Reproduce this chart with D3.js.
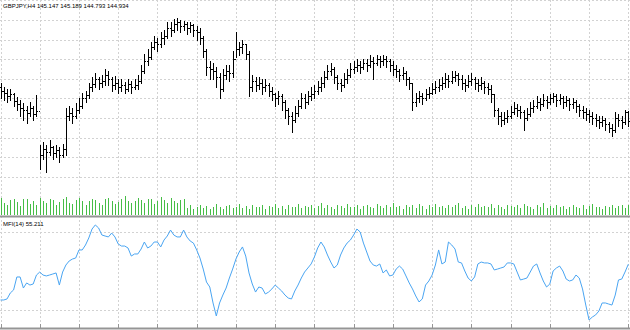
<!DOCTYPE html>
<head>
    <meta charset="utf-8">
    <title>GBPJPY,H4</title>
    <script src="https://d3js.org/d3.v7.min.js"></script>
    <style>
        body { margin: 0; background: #fff; }
        svg { display: block; font-family: "Liberation Sans", Arial, sans-serif; }
        .grid line { stroke: #d2d2d2; stroke-width: 1; stroke-dasharray: 2,2; shape-rendering: crispEdges; }
        .bar { stroke: #000; stroke-width: 1; shape-rendering: crispEdges; }
        .vol { stroke: #46bd46; stroke-width: 1; shape-rendering: crispEdges; }
        .mfi { fill: none; stroke: #4aa5f2; stroke-width: 1; }
        .lbl { font-size: 6px; fill: #000; }
    </style>
</head>
<body>
<div id="chart"></div>
<script>
// symbol info shown top left
const symbol = "GBPJPY,H4";
const lastBar = { open: 145.147, high: 145.189, low: 144.793, close: 144.934 };
const mfiName = "MFI(14)";

// price bars (H4), oldest first
const opens = [145.80,145.70,145.63,145.55,145.60,145.43,145.35,145.25,145.20,145.13,145.25,145.10,145.18,144.05,144.20,144.13,144.25,144.10,144.18,144.05,
    144.20,145.05,145.13,145.05,145.20,145.30,145.50,145.58,145.80,145.88,146.00,145.90,145.95,146.10,146.00,145.85,145.90,145.80,145.85,145.75,
    145.88,145.80,145.85,145.95,146.20,146.45,146.55,146.80,146.95,146.88,147.05,147.10,147.30,147.25,147.40,147.45,147.35,147.40,147.30,147.38,
    147.25,147.20,147.05,146.70,146.30,146.25,146.20,146.05,145.75,146.10,146.20,146.15,146.50,146.75,146.80,146.88,146.63,145.80,145.95,145.85,
    145.90,145.80,145.85,145.70,145.60,145.50,145.55,145.40,145.20,145.05,144.95,145.13,145.30,145.50,145.40,145.55,145.60,145.70,145.80,145.90,
    146.05,146.20,146.25,146.05,145.90,145.85,146.00,146.10,146.25,146.30,146.35,146.30,146.40,146.35,146.45,146.40,146.50,146.45,146.50,146.45,
    146.35,146.25,146.20,146.10,146.15,146.00,145.90,145.40,145.50,145.55,145.50,145.60,145.65,145.75,145.80,145.85,145.90,146.00,145.95,146.05,
    146.10,146.00,145.90,145.85,145.95,146.00,145.90,145.85,145.90,145.80,145.75,145.60,145.20,145.05,144.95,145.00,145.05,145.15,145.25,145.20,
    145.15,145.00,145.10,145.25,145.30,145.40,145.35,145.45,145.40,145.50,145.55,145.45,145.50,145.40,145.45,145.35,145.40,145.30,145.20,145.15,
    145.10,145.05,145.00,144.95,144.90,144.95,144.85,144.75,144.70,145.00,144.95,144.90,145.147];
const highs = [145.90,145.80,145.75,145.75,145.63,145.53,145.45,145.38,145.30,145.40,145.30,145.58,144.30,144.38,144.30,144.43,144.28,144.30,144.25,144.33,
    145.25,145.30,145.25,145.38,145.50,145.63,145.70,145.90,146.05,146.15,146.05,146.10,146.25,146.20,146.05,146.08,146.00,146.00,145.93,146.00,
    145.95,146.00,146.10,146.35,146.63,146.75,146.95,147.10,147.05,147.20,147.25,147.45,147.45,147.53,147.55,147.50,147.48,147.45,147.45,147.40,
    147.35,147.30,147.10,146.75,146.45,146.40,146.30,146.15,146.25,146.35,146.35,146.70,147.20,146.95,147.00,146.90,146.70,146.10,146.05,146.05,
    146.00,146.00,145.90,145.80,145.65,145.70,145.60,145.45,145.25,145.15,145.30,145.45,145.65,145.60,145.70,145.80,145.85,145.95,146.05,146.20,
    146.35,146.40,146.30,146.10,146.00,146.15,146.25,146.40,146.45,146.50,146.45,146.50,146.50,146.60,146.55,146.60,146.58,146.60,146.58,146.50,
    146.45,146.35,146.25,146.30,146.20,146.05,145.90,145.65,145.70,145.65,145.75,145.80,145.90,145.95,146.00,146.05,146.15,146.10,146.20,146.20,
    146.15,146.10,146.00,146.10,146.15,146.05,146.00,146.05,145.95,145.90,145.85,145.60,145.25,145.15,145.15,145.20,145.30,145.40,145.35,145.30,
    145.20,145.25,145.40,145.45,145.55,145.50,145.60,145.55,145.60,145.65,145.60,145.60,145.55,145.55,145.50,145.50,145.45,145.35,145.30,145.25,
    145.20,145.15,145.10,145.05,145.05,145.00,144.90,144.85,145.15,145.10,145.05,145.20,145.189];
const lows = [145.50,145.45,145.40,145.45,145.30,145.20,145.05,144.95,144.88,145.05,144.95,145.05,143.70,143.95,143.63,144.05,143.95,144.00,143.88,144.00,
    144.05,144.95,144.88,145.00,145.13,145.25,145.40,145.50,145.70,145.80,145.75,145.78,145.85,145.85,145.70,145.75,145.65,145.70,145.63,145.70,
    145.65,145.73,145.75,145.90,146.15,146.35,146.50,146.75,146.70,146.80,146.90,147.05,147.10,147.20,147.25,147.20,147.25,147.15,147.20,147.10,
    147.00,146.90,146.55,146.10,146.00,146.00,145.80,145.50,145.70,146.00,145.95,146.05,146.55,146.60,146.65,146.50,145.55,145.70,145.70,145.75,
    145.60,145.70,145.55,145.45,145.30,145.35,145.20,145.00,144.85,144.65,144.90,145.05,145.25,145.25,145.35,145.45,145.50,145.60,145.70,145.80,
    146.00,146.10,145.90,145.75,145.70,145.80,145.90,146.05,146.15,146.20,146.15,146.25,146.20,146.30,146.00,146.35,146.30,146.35,146.30,146.20,
    146.10,146.05,145.95,146.00,145.85,145.75,145.20,145.30,145.40,145.35,145.45,145.50,145.60,145.65,145.70,145.75,145.80,145.80,145.90,145.95,
    145.85,145.75,145.70,145.80,145.85,145.75,145.70,145.75,145.65,145.60,145.40,145.05,144.85,144.80,144.85,144.90,145.00,145.10,145.05,145.00,
    144.70,144.95,145.05,145.15,145.25,145.20,145.30,145.25,145.35,145.40,145.30,145.35,145.25,145.30,145.20,145.25,145.15,145.05,145.00,144.95,
    144.90,144.85,144.80,144.75,144.80,144.70,144.65,144.55,144.65,144.80,144.75,144.85,144.793];
const closes = [145.70,145.63,145.55,145.60,145.43,145.35,145.25,145.20,145.13,145.25,145.10,145.18,144.05,144.20,144.13,144.25,144.10,144.18,144.05,144.20,
    145.05,145.13,145.05,145.20,145.30,145.50,145.58,145.80,145.88,146.00,145.90,145.95,146.10,146.00,145.85,145.90,145.80,145.85,145.75,145.88,
    145.80,145.85,145.95,146.20,146.45,146.55,146.80,146.95,146.88,147.05,147.10,147.30,147.25,147.40,147.45,147.35,147.40,147.30,147.38,147.25,
    147.20,147.05,146.70,146.30,146.25,146.20,146.05,145.75,146.10,146.20,146.15,146.50,146.75,146.80,146.88,146.63,145.80,145.95,145.85,145.90,
    145.80,145.85,145.70,145.60,145.50,145.55,145.40,145.20,145.05,144.95,145.13,145.30,145.50,145.40,145.55,145.60,145.70,145.80,145.90,146.05,
    146.20,146.25,146.05,145.90,145.85,146.00,146.10,146.25,146.30,146.35,146.30,146.40,146.35,146.45,146.40,146.50,146.45,146.50,146.45,146.35,
    146.25,146.20,146.10,146.15,146.00,145.90,145.40,145.50,145.55,145.50,145.60,145.65,145.75,145.80,145.85,145.90,146.00,145.95,146.05,146.10,
    146.00,145.90,145.85,145.95,146.00,145.90,145.85,145.90,145.80,145.75,145.60,145.20,145.05,144.95,145.00,145.05,145.15,145.25,145.20,145.15,
    145.00,145.10,145.25,145.30,145.40,145.35,145.45,145.40,145.50,145.55,145.45,145.50,145.40,145.45,145.35,145.40,145.30,145.20,145.15,145.10,
    145.05,145.00,144.95,144.90,144.95,144.85,144.75,144.70,145.00,144.95,144.90,145.147,144.934];

// tick volumes
const volumes = [4200,3100,2500,3800,4000,3300,2200,3900,4100,2800,3500,2600,4300,3600,2900,4000,3700,2400,3300,3900,
    4400,3000,2700,3800,4200,3400,2600,3500,4100,3700,3100,2500,3900,4300,3600,2800,3300,4000,4700,3500,
    2900,3600,4200,3800,3100,4100,3900,2700,3400,4400,3700,3000,4200,3600,2900,3800,4100,
    1800,2400,1500,2000,2600,1700,2200,1400,2100,2700,1900,1600,2300,2500,1800,2000,2800,1700,2200,1500,
    2400,2100,1900,2600,1600,2300,2000,2700,1800,2200,1500,2500,2100,1900,2800,1700,2300,2000,2600,1800,
    2200,2900,1700,2400,2000,1600,2500,2200,1800,2700,2100,1900,2400,1500,2300,2600,2000,1800,2800,2200,
    1700,2500,2100,2900,1900,2300,1600,2600,2000,2400,1800,2700,2200,1500,2500,2100,2800,1900,2300,1700,
    2600,2000,2400,3000,1800,2200,1600,2500,2100,2700,1900,2300,2000,2800,1700,2400,2100,1500,2600,2200,
    1900,2500,1800,2700,2300,2000,1600,2400,2100,2900,1800,2200,1700,2500,2000,2300,1400,1900,2600,2100,
    1800,2400,1600,2200,2700,1900,2100,1500,2300,2000,2500,1700,2200,2600,1800,2400];

// money flow index (14)
const mfi = [27.7,27.7,28.5,33.1,35.4,45.4,45.4,36.9,40.8,39.2,40.0,46.9,49.2,46.9,46.2,46.9,47.7,48.5,39.2,49.2,
    54.6,57.7,59.2,60.0,66.2,66.2,70.0,75.4,82.3,85.4,83.1,77.7,76.9,76.2,79.2,76.2,70.8,69.2,69.2,67.7,
    61.5,63.1,63.1,66.9,72.3,67.7,69.2,72.3,72.3,68.5,73.8,76.9,81.5,77.7,76.2,76.2,81.5,76.2,73.1,71.5,
    66.2,60.0,51.5,41.5,37.7,25.4,15.4,25.4,31.5,36.9,44.6,51.5,59.2,64.6,68.5,61.5,48.5,40.0,33.8,37.7,
    36.9,32.3,33.8,36.2,39.2,36.9,34.6,31.5,29.2,28.5,34.6,39.2,44.6,49.2,52.3,55.4,60.8,67.7,72.3,68.5,
    62.3,56.9,52.3,54.6,62.3,67.7,71.5,73.8,77.7,82.3,80.0,71.5,64.6,57.7,54.6,53.8,55.4,48.5,50.8,46.2,
    46.9,51.5,53.8,51.5,46.2,40.8,36.2,30.8,26.2,28.5,39.2,42.3,46.9,54.6,66.2,55.4,56.9,72.3,70.0,66.9,
    56.9,56.2,50.0,44.6,42.3,45.4,55.4,56.9,56.2,56.2,55.4,50.8,51.5,52.3,53.1,56.2,56.2,55.4,49.2,43.1,
    43.8,44.6,49.2,53.8,55.4,48.5,42.3,37.7,40.0,50.0,52.3,53.8,50.0,43.8,42.3,43.1,46.9,44.6,36.2,23.8,
    12.3,14.6,16.2,19.2,25.4,25.4,24.6,23.8,31.5,43.1,43.8,49.2,55.211];

const mfiLevels = [20, 80];

const W = 630, H = 330;
const n = closes.length;

const svg = d3.select("#chart").append("svg")
    .attr("width", W)
    .attr("height", H);

// scales
const x = d3.scaleLinear().domain([0, n - 1]).range([0.5, 628.3]);
const yPrice = d3.scaleLinear().domain([147.5, 143.5]).range([20, 176.8]);
const yVol = d3.scaleLinear().domain([0, 5000]).range([215, 195]);
const yMfi = d3.scaleLinear().domain([20, 80]).range([310, 232]);

const px = v => Math.round(v) + 0.5;

// grid: one vertical line every 12 bars (2 days)
const gridBars = d3.range(0, n, 12);
const grid = svg.append("g").attr("class", "grid");
grid.selectAll(".gv").data(gridBars).enter().append("line")
    .attr("x1", d => px(x(d))).attr("x2", d => px(x(d)))
    .attr("y1", 0).attr("y2", 327);
grid.selectAll(".gh").data(d3.range(148, 143.4, -0.5)).enter().append("line")
    .attr("x1", 0).attr("x2", W)
    .attr("y1", d => px(yPrice(d))).attr("y2", d => px(yPrice(d)));
grid.selectAll(".gm").data(mfiLevels).enter().append("line")
    .attr("x1", 0).attr("x2", W)
    .attr("y1", d => px(yMfi(d))).attr("y2", d => px(yMfi(d)));

// volumes
svg.append("g").selectAll("line").data(volumes).enter().append("line")
    .attr("class", "vol")
    .attr("x1", (d, i) => px(x(i))).attr("x2", (d, i) => px(x(i)))
    .attr("y1", yVol(0)).attr("y2", d => Math.round(yVol(d)));

// OHLC bars
const bars = svg.append("g");
closes.forEach((c, i) => {
    const bx = px(x(i));
    bars.append("line").attr("class", "bar")
        .attr("x1", bx).attr("x2", bx)
        .attr("y1", Math.round(yPrice(highs[i]))).attr("y2", Math.round(yPrice(lows[i])) + 1);
    bars.append("line").attr("class", "bar")
        .attr("x1", bx - 1.5).attr("x2", bx - 0.5)
        .attr("y1", px(yPrice(opens[i]))).attr("y2", px(yPrice(opens[i])));
    bars.append("line").attr("class", "bar")
        .attr("x1", bx + 0.5).attr("x2", bx + 1.5)
        .attr("y1", px(yPrice(c))).attr("y2", px(yPrice(c)));
});

// pane separators
svg.append("rect").attr("x", 0).attr("y", 215.5).attr("width", W).attr("height", 2).attr("fill", "#959595");
svg.append("rect").attr("x", 0).attr("y", 327.5).attr("width", W).attr("height", 2).attr("fill", "#959595");
svg.append("g").selectAll("line").data(gridBars).enter().append("line")
    .attr("x1", d => px(x(d))).attr("x2", d => px(x(d)))
    .attr("y1", 324).attr("y2", 328)
    .attr("stroke", "#959595").attr("shape-rendering", "crispEdges");

// MFI line
const line = d3.line().x((d, i) => x(i)).y(d => yMfi(d));
svg.append("path").datum(mfi).attr("class", "mfi").attr("d", line);

// labels
const fmt = d3.format(".3f");
svg.append("text").attr("class", "lbl").attr("x", 3).attr("y", 8)
    .text(symbol + "  " + [lastBar.open, lastBar.high, lastBar.low, lastBar.close].map(fmt).join(" "));
svg.append("text").attr("class", "lbl").attr("x", 3).attr("y", 226)
    .text(mfiName + " " + fmt(mfi[n - 1]));
</script>
</body>
</html>
